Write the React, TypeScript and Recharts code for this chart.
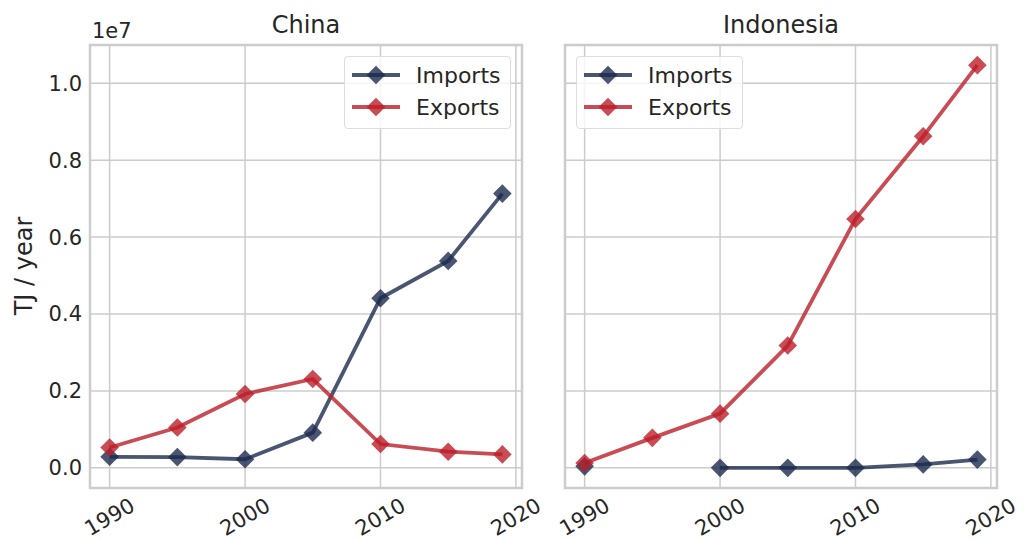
import { LineChart, Line, XAxis, YAxis, CartesianGrid, ReferenceArea } from "recharts";

const years = [1990, 1995, 2000, 2005, 2010, 2015, 2019];

const chinaImports = [0.287e6, 0.28e6, 0.224e6, 0.916e6, 4.41e6, 5.38e6, 7.13e6];
const chinaExports = [0.53e6, 1.05e6, 1.92e6, 2.31e6, 0.62e6, 0.42e6, 0.35e6];

const indonesiaImports = [0.04e6, null, 0.0e6, 0.0e6, 0.0e6, 0.09e6, 0.215e6];
const indonesiaExports = [0.126e6, 0.78e6, 1.41e6, 3.18e6, 6.47e6, 8.62e6, 10.47e6];

const legendLabels = ["Imports", "Exports"];
const xTicks = [1990, 2000, 2010, 2020];
const yTicks = [0, 2e6, 4e6, 6e6, 8e6, 10e6];
const xDomain = [1988.55, 2020.45];
const yDomain = [-523500, 10993500];

const IMPORT_COLOR = "#1b2a4e";
const EXPORT_COLOR = "#bb1e29";
const GRID = "#cccccc";
const TEXT = "#262626";
const FONT = "DejaVu Sans";
const TICK_SIZE = 21;

const build = (imp: (number | null)[], exp: number[]) =>
  years.map((year, i) => ({ year, imports: imp[i], exports: exp[i] }));

const chinaData = build(chinaImports, chinaExports);
const indonesiaData = build(indonesiaImports, indonesiaExports);

function diamond(cx: number, cy: number, r: number) {
  return `M${cx},${cy - r}L${cx + r},${cy}L${cx},${cy + r}L${cx - r},${cy}Z`;
}

const makeDot = (color: string) => (p: any) => {
  const { cx, cy, index, value } = p;
  if (value == null || cy == null || isNaN(cy)) return <g key={`n${index}`} />;
  return <path key={`d${index}`} d={diamond(cx, cy, 9.3)} fill={color} fillOpacity={0.8} />;
};

const XTick = (p: any) => {
  const { x, y, payload } = p;
  return (
    <g transform={`translate(${x},${y + 29})`}>
      <text transform="rotate(-30)" textAnchor="middle" dominantBaseline="central" fontSize={TICK_SIZE} fill={TEXT} fontFamily={FONT}>
        {payload.value}
      </text>
    </g>
  );
};

const LegendBox = ({ left, top }: { left: number; top: number }) => (
  <div
    style={{
      position: "absolute",
      left,
      top,
      width: 167,
      height: 73,
      background: "rgba(255,255,255,0.8)",
      border: "1.5px solid #dddddd",
      borderRadius: 4,
      boxSizing: "border-box",
    }}
  >
    <svg width={164} height={70} style={{ position: "absolute", left: 0, top: 0 }}>
      {[IMPORT_COLOR, EXPORT_COLOR].map((color, i) => {
        const y = 18 + i * 32;
        return (
          <g key={legendLabels[i]}>
            <line x1={7} x2={55} y1={y} y2={y} stroke={color} strokeOpacity={0.8} strokeWidth={3.8} />
            <path d={diamond(31, y, 9.3)} fill={color} fillOpacity={0.8} />
            <text x={71} y={y} dominantBaseline="central" fontSize={22} fill={TEXT} fontFamily={FONT}>
              {legendLabels[i]}
            </text>
          </g>
        );
      })}
    </svg>
  </div>
);

function Panel({ data, width, margin, showY }: { data: any[]; width: number; margin: any; showY: boolean }) {
  return (
    <LineChart width={width} height={540} data={data} margin={margin} style={{ fontFamily: FONT }}>
      <CartesianGrid stroke={GRID} strokeWidth={1.5} />
      <XAxis
        dataKey="year"
        type="number"
        domain={xDomain}
        ticks={xTicks}
        allowDataOverflow
        height={52}
        axisLine={false}
        tickLine={false}
        tickSize={0}
        tickMargin={0}
        tick={<XTick />}
        interval={0}
      />
      <YAxis
        type="number"
        domain={yDomain}
        ticks={yTicks}
        allowDataOverflow
        hide={!showY}
        width={90}
        axisLine={false}
        tickLine={false}
        tickSize={0}
        tickMargin={8}
        interval={0}
        tick={{ fontSize: TICK_SIZE, fill: TEXT, fontFamily: FONT }}
        tickFormatter={(v: number) => (v / 1e7).toFixed(1)}
      />
      <ReferenceArea
        x1={xDomain[0]}
        x2={xDomain[1]}
        y1={yDomain[0]}
        y2={yDomain[1]}
        fill="none"
        stroke={GRID}
        strokeWidth={2.5}
        ifOverflow="visible"
      />
      <Line
        type="linear"
        dataKey="imports"
        stroke={IMPORT_COLOR}
        strokeOpacity={0.8}
        strokeWidth={3.8}
        dot={makeDot(IMPORT_COLOR)}
        activeDot={false}
        connectNulls={false}
        isAnimationActive={false}
      />
      <Line
        type="linear"
        dataKey="exports"
        stroke={EXPORT_COLOR}
        strokeOpacity={0.8}
        strokeWidth={3.8}
        dot={makeDot(EXPORT_COLOR)}
        activeDot={false}
        isAnimationActive={false}
      />
    </LineChart>
  );
}

const label: React.CSSProperties = {
  position: "absolute",
  fontFamily: FONT,
  color: TEXT,
  whiteSpace: "nowrap",
};

export default function App() {
  return (
    <div style={{ position: "absolute", left: 0, top: 0, width: 1032, height: 540, background: "#fff", overflow: "hidden" }}>
      <div style={{ position: "absolute", left: 0, top: 0 }}>
        <Panel data={chinaData} width={560} margin={{ top: 45, right: 38, bottom: 0, left: 0 }} showY />
      </div>
      <div style={{ position: "absolute", left: 530, top: 0 }}>
        <Panel data={indonesiaData} width={502} margin={{ top: 45, right: 35, bottom: 0, left: 35 }} showY={false} />
      </div>
      <LegendBox left={344} top={56} />
      <LegendBox left={576} top={56} />
      <div style={{ ...label, fontSize: 24, lineHeight: "24px", left: 306, top: 13, transform: "translateX(-50%)" }}>China</div>
      <div style={{ ...label, fontSize: 24, lineHeight: "24px", left: 781, top: 13, transform: "translateX(-50%)" }}>Indonesia</div>
      <div style={{ ...label, fontSize: TICK_SIZE, lineHeight: `${TICK_SIZE}px`, left: 92, top: 21 }}>1e7</div>
      <div
        style={{
          ...label,
          fontSize: 24,
          lineHeight: "24px",
          left: 24,
          top: 266,
          transform: "translate(-50%, -50%) rotate(-90deg)",
        }}
      >
        TJ / year
      </div>
    </div>
  );
}
